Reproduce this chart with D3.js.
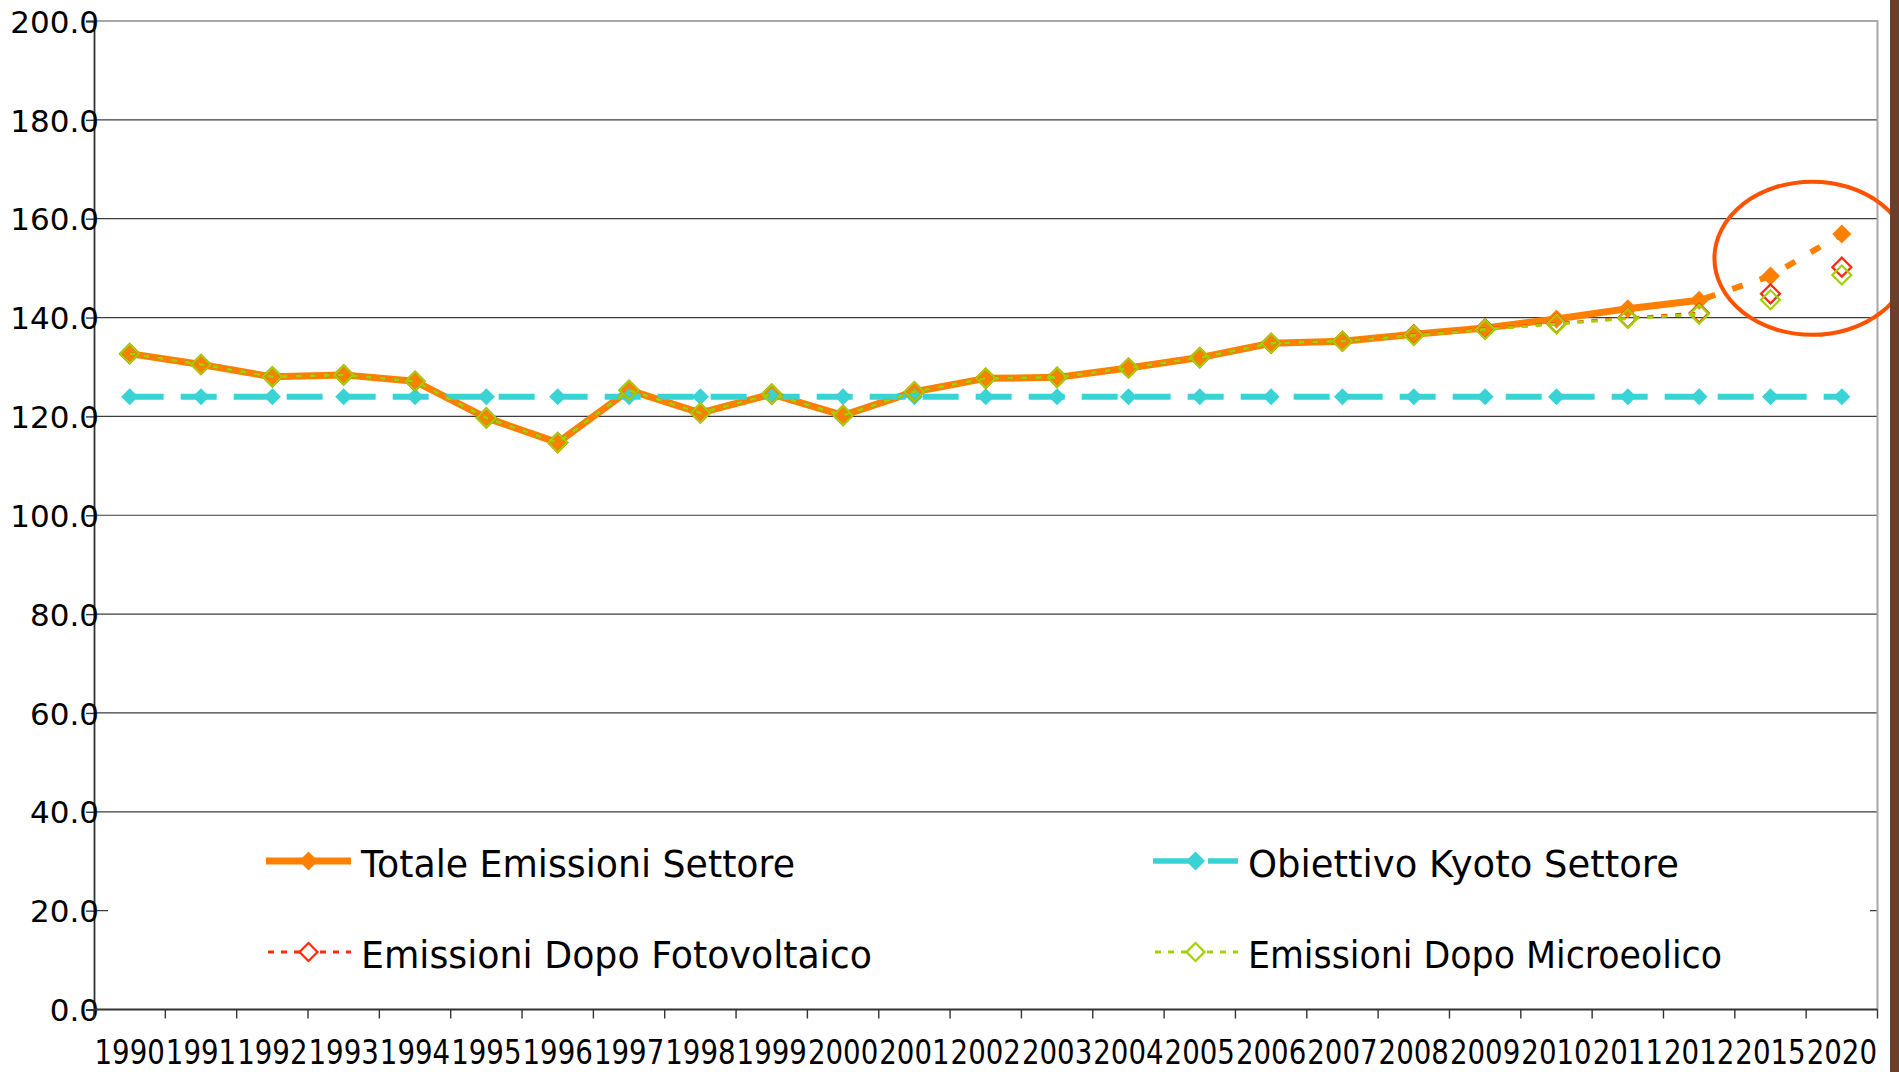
<!DOCTYPE html>
<html>
<head>
<meta charset="utf-8">
<script src="https://cdn.jsdelivr.net/npm/d3@7"></script>
<style>
  html, body { margin: 0; padding: 0; background: #ffffff; }
  svg { display: block; }
</style>
</head>
<body>
<svg id="chart" width="1899" height="1072"></svg>
<script>
// Categories on the x axis (years, with the two projection years at the end)
const categories = ["1990","1991","1992","1993","1994","1995","1996","1997","1998","1999",
  "2000","2001","2002","2003","2004","2005","2006","2007","2008","2009",
  "2010","2011","2012","2015","2020"];

// Series values
const totaleEmissioni = [132.7,130.5,128.0,128.4,127.1,119.7,114.7,125.3,120.7,124.5,
  120.2,125.0,127.7,127.9,129.8,131.9,134.8,135.2,136.6,137.9,
  139.7,141.8,143.5,148.4,156.9];
const obiettivoKyoto = [124.0,124.0,124.0,124.0,124.0,124.0,124.0,124.0,124.0,124.0,
  124.0,124.0,124.0,124.0,124.0,124.0,124.0,124.0,124.0,124.0,
  124.0,124.0,124.0,124.0,124.0];
const dopoFotovoltaico = [132.7,130.5,128.0,128.4,127.1,119.7,114.7,125.3,120.7,124.5,
  120.2,125.0,127.7,127.9,129.8,131.9,134.8,135.2,136.5,137.7,
  138.8,139.9,140.9,144.8,150.2];
const dopoMicroeolico = [132.7,130.5,128.0,128.4,127.1,119.7,114.7,125.3,120.7,124.5,
  120.2,125.0,127.7,127.9,129.8,131.9,134.8,135.2,136.4,137.6,
  138.7,139.8,140.7,143.6,148.6];

// Y axis ticks
const yTicks = [0,20,40,60,80,100,120,140,160,180,200];

// Legend entries
const legendLabels = ["Totale Emissioni Settore","Obiettivo Kyoto Settore",
  "Emissioni  Dopo Fotovoltaico","Emissioni Dopo Microeolico"];

// Measured-series years vs. projection years
const lastMeasured = "2012";
const projectionYears = ["2012","2015","2020"];

// Colours
const C_ORANGE = "#ff8000";
const C_CYAN = "#3ad3d5";
const C_RED = "#ff2a0a";
const C_GREEN = "#a3d000";
const C_RING = "#ff5200";

const svg = d3.select("#chart");
svg.append("rect").attr("width", 1899).attr("height", 1072).attr("fill", "#ffffff");

const plot = { left: 94, right: 1877.5, top: 21, bottom: 1009.5 };

const x = d3.scaleBand().domain(categories).range([plot.left, plot.right]).padding(0);
const xc = d => x(d) + x.bandwidth() / 2;
const y = d3.scaleLinear().domain([0, 200]).range([plot.bottom, plot.top]);

const fontMain = "'DejaVu Sans', Verdana, sans-serif";
const fontCond = "'DejaVu Sans Condensed', 'DejaVu Sans', sans-serif";

// Horizontal gridlines
svg.append("g")
  .selectAll("line")
  .data(yTicks.filter(v => v > 0 && v < 200))
  .join("line")
  .attr("x1", plot.left).attr("x2", plot.right)
  .attr("y1", d => y(d)).attr("y2", d => y(d))
  .attr("stroke", "#3c3c3c").attr("stroke-width", 1.2);

// Plot frame (top and right)
svg.append("path")
  .attr("d", `M${plot.left},${y(200)}H${plot.right}V${plot.bottom}`)
  .attr("fill", "none").attr("stroke", "#a8a8a8").attr("stroke-width", 2);

// Y axis (labels sit slightly over the axis line)
const yAxis = d3.axisLeft(y).tickValues(yTicks).tickSize(8).tickPadding(-13)
  .tickFormat(d3.format(".1f"));
const gy = svg.append("g").attr("transform", `translate(${plot.left},0)`).call(yAxis);
gy.select(".domain").attr("stroke", "#333").attr("stroke-width", 1.8);
gy.selectAll(".tick line").attr("stroke", "#333").attr("stroke-width", 1.4);
gy.selectAll(".tick text")
  .attr("font-family", fontMain).attr("font-size", 31).attr("fill", "#000")
  .attr("dy", "0.36em");

// X axis: ticks on band boundaries, labels centered on bands
const gx = svg.append("g").attr("transform", `translate(0,${plot.bottom})`);
gx.append("line").attr("x1", plot.left).attr("x2", plot.right)
  .attr("stroke", "#333").attr("stroke-width", 1.8);
gx.selectAll("line.tk")
  .data(categories.concat(["__end"]))
  .join("line").attr("class", "tk")
  .attr("x1", (d, i) => plot.left + i * x.bandwidth())
  .attr("x2", (d, i) => plot.left + i * x.bandwidth())
  .attr("y1", 0).attr("y2", 9)
  .attr("stroke", "#333").attr("stroke-width", 1.4);
gx.selectAll("text")
  .data(categories)
  .join("text")
  .attr("x", d => xc(d)).attr("y", 54.5)
  .attr("text-anchor", "middle")
  .attr("font-family", fontCond).attr("font-size", 34).attr("fill", "#000")
  .attr("textLength", x.bandwidth() - 1).attr("lengthAdjust", "spacingAndGlyphs")
  .text(d => d);

// Diamond marker helper
const diamond = h => d3.symbol(d3.symbolSquare, 2 * h * h)();

const pts = vals => categories.map((c, i) => ({ c, v: vals[i] }));
const line = d3.line().x(d => xc(d.c)).y(d => y(d.v));

// Totale Emissioni: solid through the measured years, dashed for projections
const totPts = pts(totaleEmissioni);
const measuredIdx = categories.indexOf(lastMeasured);
svg.append("path")
  .attr("d", line(totPts.slice(0, measuredIdx + 1)))
  .attr("fill", "none").attr("stroke", C_ORANGE).attr("stroke-width", 7)
  .attr("stroke-linejoin", "round");
svg.append("path")
  .attr("d", line(totPts.filter(p => projectionYears.includes(p.c))))
  .attr("fill", "none").attr("stroke", C_ORANGE).attr("stroke-width", 6)
  .attr("stroke-dasharray", "11,18").attr("stroke-dashoffset", -6);
svg.append("g").selectAll("path").data(totPts).join("path")
  .attr("transform", d => `translate(${xc(d.c)},${y(d.v)}) rotate(45)`)
  .attr("d", diamond(9.5)).attr("fill", C_ORANGE);

// Obiettivo Kyoto: long dashes with filled diamonds
const kyPts = pts(obiettivoKyoto);
svg.append("path")
  .attr("d", line(kyPts))
  .attr("fill", "none").attr("stroke", C_CYAN).attr("stroke-width", 6)
  .attr("stroke-dasharray", "36,17").attr("stroke-dashoffset", 2);
svg.append("g").selectAll("path").data(kyPts).join("path")
  .attr("transform", d => `translate(${xc(d.c)},${y(d.v)}) rotate(45)`)
  .attr("d", diamond(8.5)).attr("fill", C_CYAN);

// Dotted series with hollow diamonds (line only over the measured years)
function dottedSeries(vals, color) {
  const p = pts(vals);
  svg.append("path")
    .attr("d", line(p.slice(0, measuredIdx + 1)))
    .attr("fill", "none").attr("stroke", color).attr("stroke-width", 3)
    .attr("stroke-dasharray", "6,8");
  svg.append("g").selectAll("path").data(p).join("path")
    .attr("transform", d => `translate(${xc(d.c)},${y(d.v)}) rotate(45)`)
    .attr("d", diamond(9.5)).attr("fill", "none")
    .attr("stroke", color).attr("stroke-width", 2.2);
}
dottedSeries(dopoFotovoltaico, C_RED);
dottedSeries(dopoMicroeolico, C_GREEN);

// Highlight ring around the projection years
const ringCx = (xc("2015") + xc("2020")) / 2 + 6;
svg.append("ellipse")
  .attr("cx", ringCx).attr("cy", y(152))
  .attr("rx", x.bandwidth() * 1.37).attr("ry", (y(136.5) - y(167.5)) / 2)
  .attr("fill", "none").attr("stroke", C_RING).attr("stroke-width", 4);

// Legend (white box inside the plot area)
const lg = svg.append("g");
lg.append("rect")
  .attr("x", 108).attr("y", 826).attr("width", 1762).attr("height", 176)
  .attr("fill", "#ffffff");
const legendItems = [
  { label: legendLabels[0], color: C_ORANGE, kind: "solid", lx: 266, ly: 861, tw: 434 },
  { label: legendLabels[1], color: C_CYAN, kind: "dash", lx: 1153, ly: 861, tw: 431 },
  { label: legendLabels[2], color: C_RED, kind: "dot", lx: 266, ly: 952, tw: 511 },
  { label: legendLabels[3], color: C_GREEN, kind: "dot", lx: 1153, ly: 952, tw: 474 }
];
const LW = 85;
legendItems.forEach(it => {
  const g = lg.append("g").attr("transform", `translate(${it.lx},${it.ly})`);
  const ln = g.append("line").attr("x1", 0).attr("x2", LW).attr("y1", 0).attr("y2", 0)
    .attr("stroke", it.color);
  const mk = g.append("path").attr("transform", `translate(${LW / 2},0) rotate(45)`);
  if (it.kind === "solid") {
    ln.attr("stroke-width", 7);
    mk.attr("d", diamond(9.5)).attr("fill", it.color);
  } else if (it.kind === "dash") {
    ln.attr("stroke-width", 5.5).attr("stroke-dasharray", "46,9,40");
    mk.attr("d", diamond(9.5)).attr("fill", it.color);
  } else {
    ln.attr("stroke-width", 3).attr("stroke-dasharray", "6,7").attr("stroke-dashoffset", -2);
    mk.attr("d", diamond(9)).attr("fill", "#ffffff")
      .attr("stroke", it.color).attr("stroke-width", 2.2);
  }
  g.append("text")
    .attr("x", LW + 10).attr("y", 16)
    .attr("font-family", fontMain).attr("font-size", 37).attr("fill", "#000")
    .attr("textLength", it.tw).attr("lengthAdjust", "spacingAndGlyphs")
    .text(it.label);
});

// Dark strip at the right edge
svg.append("rect").attr("x", 1890).attr("y", 0).attr("width", 9).attr("height", 1072)
  .attr("fill", "#6d3e2b");
</script>
</body>
</html>
